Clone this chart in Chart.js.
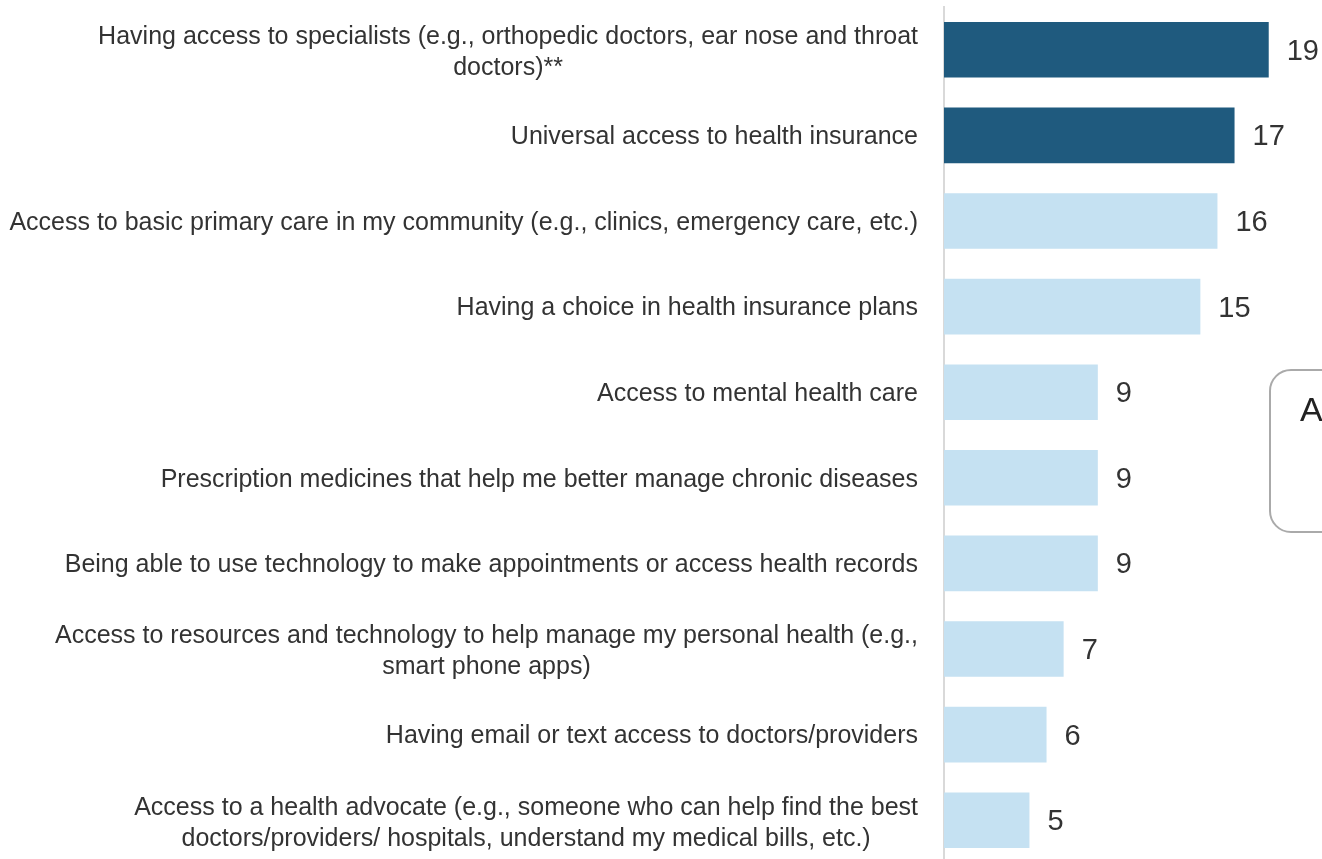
<!DOCTYPE html>
<html>
<head>
<meta charset="utf-8">
<script src="https://cdn.jsdelivr.net/npm/chart.js@4.4.1/dist/chart.umd.min.js"></script>
<style>
  html, body { margin: 0; padding: 0; background: #ffffff; overflow: hidden; }
  #wrap { position: relative; width: 1322px; height: 859px; overflow: hidden; }
  canvas { display: block; }
  #keyBox {
    position: absolute; left: 1269px; top: 369px; width: 120px; height: 160px;
    border: 2px solid #aaaaaa; border-radius: 22px; box-sizing: content-box;
  }
  #keyBox span {
    position: absolute; left: 29px; top: 19px;
    font-family: "Liberation Sans", Arial, sans-serif; font-size: 34px; color: #222222;
  }
</style>
</head>
<body>
<div id="wrap">
  <canvas id="chart" width="1322" height="866"></canvas>
  <div id="keyBox"><span>A</span></div>
</div>
<script>
// Survey items, top to bottom; multi-line labels are arrays of lines
const categories = [
  ["Having access to specialists (e.g., orthopedic doctors, ear nose and throat", "doctors)**"],
  "Universal access to health insurance",
  "Access to basic primary care in my community (e.g., clinics, emergency care, etc.)",
  "Having a choice in health insurance plans",
  "Access to mental health care",
  "Prescription medicines that help me better manage chronic diseases",
  "Being able to use technology to make appointments or access health records",
  ["Access to resources and technology to help manage my personal health (e.g.,", "smart phone apps)"],
  "Having email or text access to doctors/providers",
  ["Access to a health advocate (e.g., someone who can help find the best", "doctors/providers/ hospitals, understand my medical bills, etc.)"]
];
const values = [19, 17, 16, 15, 9, 9, 9, 7, 6, 5];
const highlighted = [true, true, false, false, false, false, false, false, false, false];

const DARK = "#1f5a7e";
const LIGHT = "#c5e1f2";
const TEXT = "#333333";
const FONT = '"Liberation Sans", Arial, sans-serif';

// Category labels: single lines right-aligned against the axis,
// wrapped lines centred under the first line
const categoryLabels = {
  id: "categoryLabels",
  afterDraw(chart) {
    const ctx = chart.ctx;
    const y = chart.scales.y;
    const right = chart.chartArea.left - 26;
    const lh = 31;
    ctx.save();
    ctx.font = "25px " + FONT;
    ctx.fillStyle = TEXT;
    ctx.textBaseline = "middle";
    categories.forEach((lab, i) => {
      const lines = Array.isArray(lab) ? lab : [lab];
      const cy = y.getPixelForValue(i) + (lines.length > 1 ? 3 : 2);
      const top = cy - (lines.length - 1) * lh / 2;
      const w0 = ctx.measureText(lines[0]).width;
      const center = right - w0 / 2;
      lines.forEach((ln, k) => {
        if (k === 0) {
          ctx.textAlign = "right";
          ctx.fillText(ln, right, top);
        } else {
          ctx.textAlign = "center";
          ctx.fillText(ln, center, top + k * lh);
        }
      });
    });
    ctx.restore();
  }
};

// Value labels just past the end of each bar
const valueLabels = {
  id: "valueLabels",
  afterDatasetsDraw(chart) {
    const ctx = chart.ctx;
    const meta = chart.getDatasetMeta(0);
    ctx.save();
    ctx.font = "29px " + FONT;
    ctx.fillStyle = TEXT;
    ctx.textAlign = "left";
    ctx.textBaseline = "middle";
    meta.data.forEach((bar, i) => {
      ctx.fillText(String(values[i]), bar.x + 18, bar.y + 2);
    });
    ctx.restore();
  }
};

new Chart(document.getElementById("chart"), {
  type: "bar",
  data: {
    labels: categories,
    datasets: [{
      data: values,
      backgroundColor: highlighted.map(h => h ? DARK : LIGHT),
      borderWidth: 0,
      categoryPercentage: 1,
      barPercentage: 0.65
    }]
  },
  options: {
    indexAxis: "y",
    responsive: false,
    animation: false,
    layout: { padding: { top: 7, right: 2, bottom: 3, left: 0 } },
    plugins: { legend: { display: false }, tooltip: { enabled: false } },
    scales: {
      x: { display: false, min: 0, max: 22 },
      y: {
        grid: { display: false },
        border: { display: true, color: "#d9d9d9", width: 2 },
        ticks: { display: false },
        afterFit(scale) { scale.width = 944; }
      }
    }
  },
  plugins: [categoryLabels, valueLabels]
});
</script>
</body>
</html>
